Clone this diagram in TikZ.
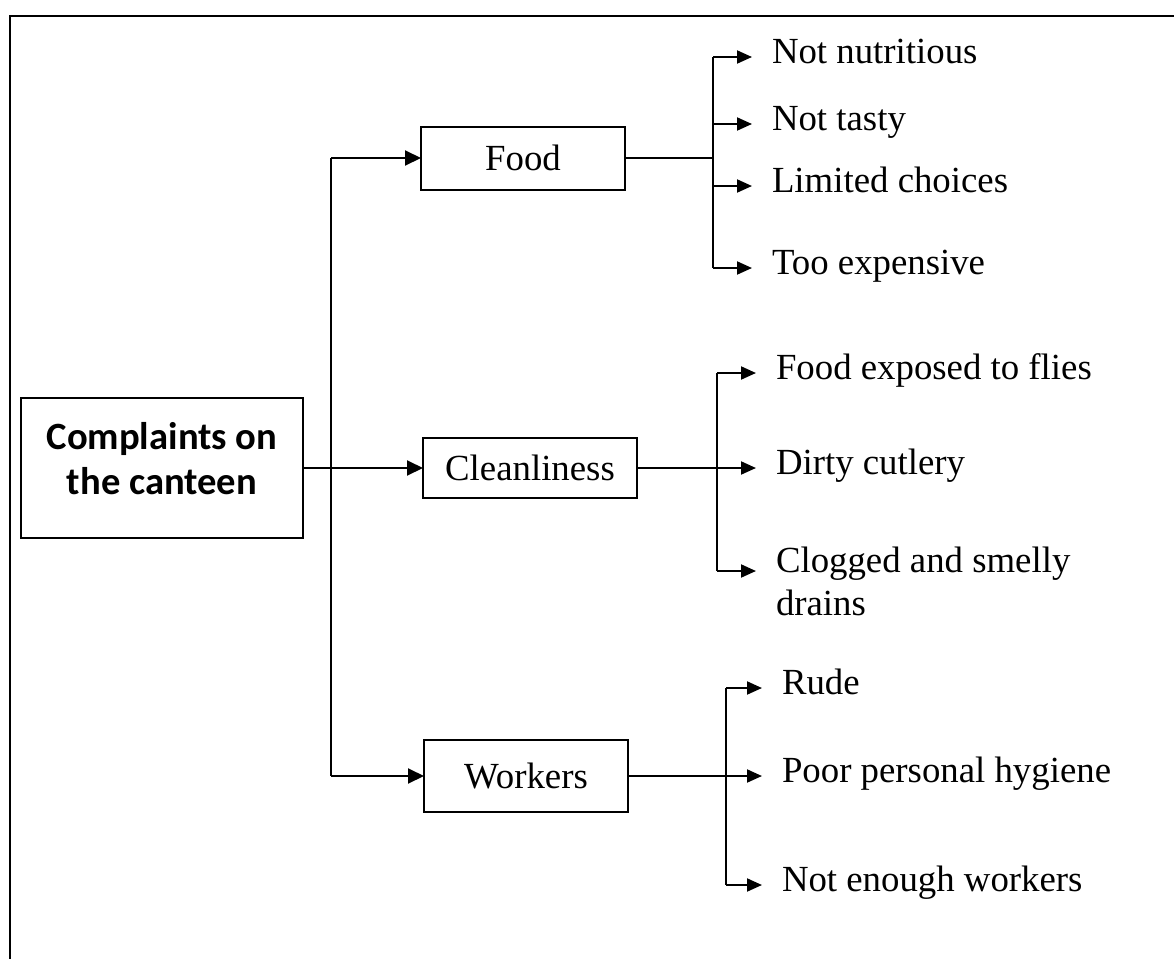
\documentclass[tikz,border=0pt]{standalone}
\usepackage{fontspec}
\setmainfont{Liberation Serif}
\newfontfamily\boxfont{Carlito}
\usetikzlibrary{arrows.meta}

\tikzset{
    catbox/.style={draw, line width=1pt, inner sep=0pt, outer sep=0pt,
        font=\fontsize{18.4}{22}\selectfont},
    itembase/.style={anchor=west, inner xsep=10pt, inner ysep=0pt, outer sep=0pt,
        font=\fontsize{18.4}{21.5}\selectfont},
    itemtext/.style={itembase, text height=0.66em, text depth=0pt},
    arr/.style={line width=1pt, -{Triangle[length=8pt,width=7.5pt]}},
    arrsmall/.style={line width=1pt, -{Triangle[length=7.5pt,width=6.5pt]}},
    link/.style={line width=0.75pt},
}

\begin{document}
\begin{tikzpicture}[x=0.5pt,y=-0.5pt]
    \useasboundingbox (0,0) rectangle (1174,959);
    \draw[line width=1.2pt] (1174,16) -- (10,16) -- (10,959);

    \begin{scope}[every node/.style={catbox}]
        \node[minimum width=141pt, minimum height=70pt, align=center,
              font=\boxfont\bfseries\fontsize{19.3}{22.5}\selectfont]
              (canteen) at (162,468) {Complaints on\\the canteen\rule[-10pt]{0pt}{0pt}};
        \node[minimum width=102pt, minimum height=31.5pt] (food) at (523,158) {Food};
        \node[minimum width=107pt, minimum height=30pt] (clean) at (530,468) {Cleanliness};
        \node[minimum width=102pt, minimum height=36pt] (work) at (526,776) {Workers};
    \end{scope}

    % trunk
    \coordinate (tfood) at (331,158);
    \coordinate (twork) at (331,776);
    \draw[line width=1pt] (tfood) -- (twork);
    \draw[arr] (tfood) -- (food);
    \draw[arr] (canteen) -- (clean);
    \draw[arr] (twork) -- (work);

    % food
    \coordinate (fb1) at (713,57);
    \coordinate (fb4) at (713,268);
    \node[itemtext] (nutri) at (752,57) {Not nutritious};
    \node[itemtext] (tasty) at (752,124) {Not tasty};
    \node[itemtext] (choice) at (752,186) {Limited choices};
    \node[itemtext] (price) at (752,268) {Too expensive};
    \draw[link] (food) -- (food -| fb1);
    \draw[line width=1pt] (fb1) -- (fb4);
    \draw[arrsmall] (fb1) -- (nutri);
    \draw[arrsmall] (fb1 |- tasty) -- (tasty);
    \draw[arrsmall] (fb1 |- choice) -- (choice);
    \draw[arrsmall] (fb4) -- (price);

    % cleanliness
    \coordinate (cb1) at (717,373);
    \coordinate (cb3) at (717,571);
    \node[itemtext] (flies) at (756,373) {Food exposed to flies};
    \node[itemtext] (cutlery) at (756,468) {Dirty cutlery};
    \node[itembase, align=left] (drains) at (756,581) {Clogged and smelly\\drains};
    \draw[link] (clean) -- (clean -| cb1);
    \draw[line width=1pt] (cb1) -- (cb3);
    \draw[arrsmall] (cb1) -- (flies);
    \draw[arrsmall] (cb1 |- cutlery) -- (cutlery);
    \draw[arrsmall] (cb3) -- (cb3 -| drains.west);

    % workers
    \coordinate (wb1) at (726,688);
    \coordinate (wb3) at (726,885);
    \node[itemtext] (rude) at (762,688) {Rude};
    \node[itemtext] (hygiene) at (762,776) {Poor personal hygiene};
    \node[itemtext] (staff) at (762,885) {Not enough workers};
    \draw[link] (work) -- (work -| wb1);
    \draw[line width=1pt] (wb1) -- (wb3);
    \draw[arrsmall] (wb1) -- (rude);
    \draw[arrsmall] (wb1 |- hygiene) -- (hygiene);
    \draw[arrsmall] (wb3) -- (staff);
\end{tikzpicture}
\end{document}
